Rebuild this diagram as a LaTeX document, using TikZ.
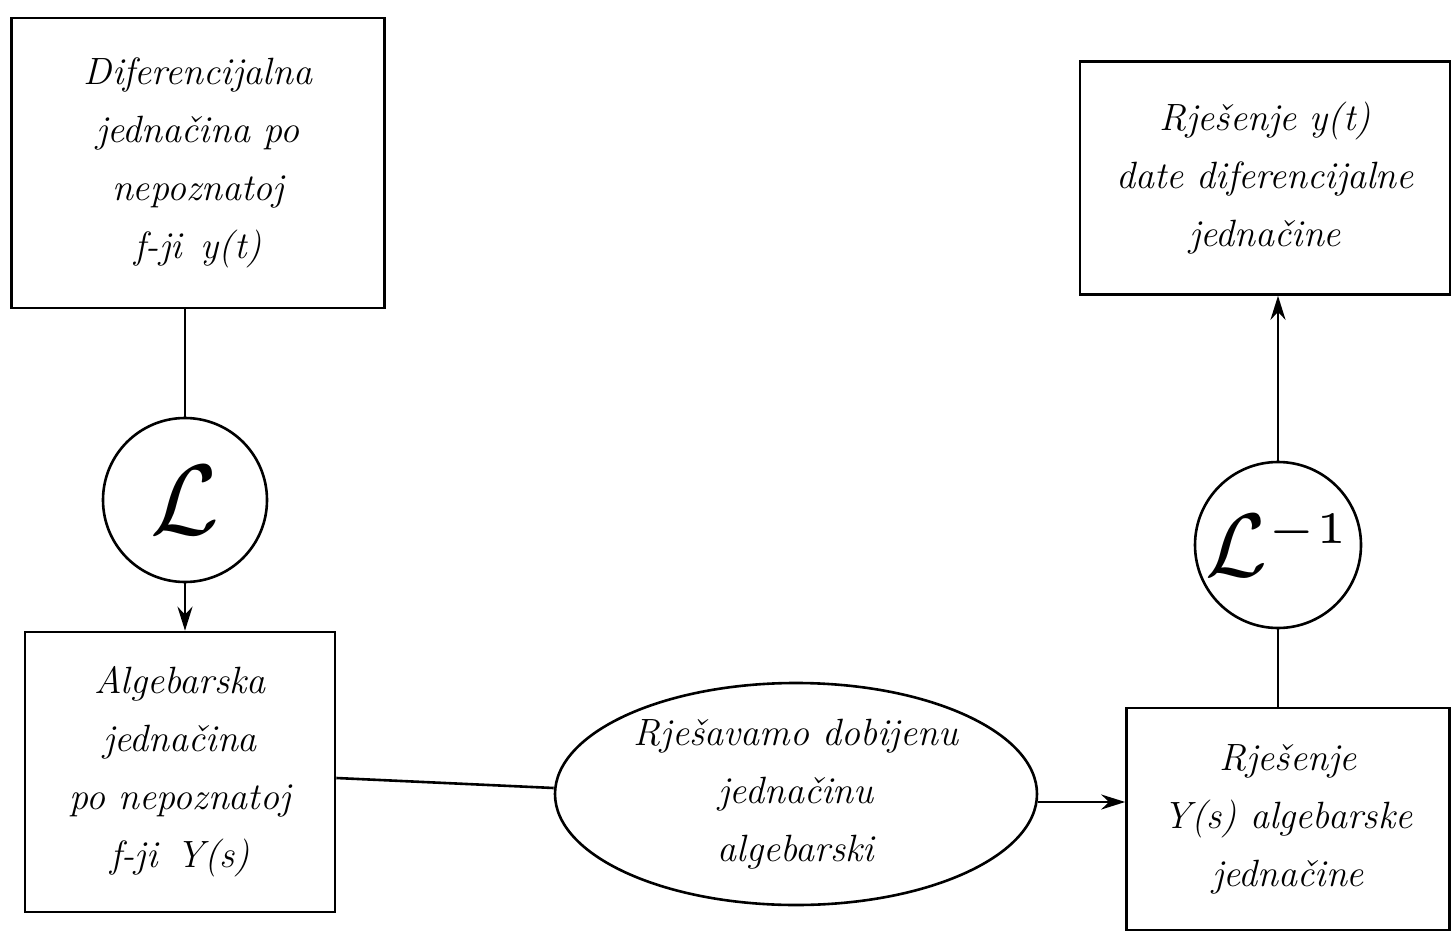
\documentclass[tikz,border=0pt]{standalone}
\usepackage{graphicx}
\usetikzlibrary{arrows.meta,shapes.geometric}
\begin{document}
\begin{tikzpicture}[x=1pt,y=-1pt,line width=2.6pt,
  txt/.style={align=center,font=\fontsize{38}{58}\selectfont\itshape,inner sep=0pt},
  box/.style={draw,rectangle,txt},
  op/.style={draw,circle,inner sep=0pt},
  oval/.style={draw,ellipse,txt},
  arr/.style={-{Stealth[length=24pt,width=15pt]}}]
\useasboundingbox (0,0) rectangle (1456,936);
\node[box,minimum width=373,minimum height=290] (b1) at (198,163)
  {Diferencijalna\\jednačina po\\nepoznatoj\\f-ji\enspace y(t)};
\node[op,minimum size=164] (c1) at (185,500) {\scalebox{10}{$\mathcal{L}$}};
\node[box,minimum width=310,minimum height=280] (b2) at (180,772)
  {Algebarska\\jednačina\\po nepoznatoj\\f-ji\enspace Y(s)};
\node[oval,minimum width=482,minimum height=222] (e) at (796,794)
  {Rješavamo dobijenu\\jednačinu\\algebarski};
\node[box,minimum width=323,minimum height=222] (b3) at (1288,819)
  {Rješenje\\Y(s) algebarske\\jednačine};
\node[op,minimum size=166] (c2) at (1278,545) {\scalebox{9}{$\mathcal{L}^{\scriptscriptstyle -1}$}};
\node[box,minimum width=370,minimum height=233] (b4) at (1265,178)
  {Rješenje y(t)\\date diferencijalne\\jednačine};
\coordinate (eo) at ([yshift=-8pt]e.east);
\draw (b1.south -| c1.north) -- (c1.north);
\draw[arr] (c1.south) -- (b2.north -| c1.south);
\draw ([yshift=-6pt]b2.east) -- ([yshift=6pt]e.west);
\draw[arr] (eo) -- (b3.west |- eo);
\draw (b3.north -| c2.south) -- (c2.south);
\draw[arr] (c2.north) -- (b4.south -| c2.north);
\end{tikzpicture}
\end{document}
